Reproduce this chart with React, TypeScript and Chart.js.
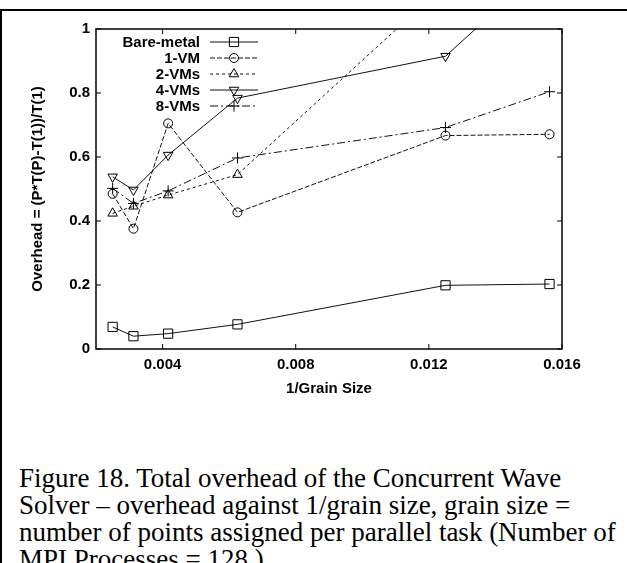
import React, { useEffect, useRef } from 'react';
import { Chart, registerables } from 'chart.js';

Chart.register(...registerables);

// ---- data ----
const grainX = [0.0025, 0.003125, 0.0041667, 0.00625, 0.0125, 0.015625];
const bareMetal = [0.069, 0.04, 0.048, 0.077, 0.199, 0.203];
const oneVM = [0.485, 0.376, 0.705, 0.427, 0.667, 0.671];
const twoVMs = [0.424, 0.446, 0.481, 0.545, 1.14, 1.32];
const fourVMs = [0.538, 0.497, 0.606, 0.784, 0.915, 1.21];
const eightVMs = [0.502, 0.455, 0.494, 0.597, 0.692, 0.804];
const seriesNames = ['Bare-metal', '1-VM', '2-VMs', '4-VMs', '8-VMs'];
const xTicks = [0.004, 0.008, 0.012, 0.016];
const yTicks = [0, 0.2, 0.4, 0.6, 0.8, 1];
const xTitle = '1/Grain Size';
const yTitle = 'Overhead = (P*T(P)-T(1))/T(1)';
const captionLines = [
  'Figure 18. Total overhead of the Concurrent Wave',
  'Solver \u2013 overhead against 1/grain size, grain size =',
  'number of points assigned per parallel task (Number of',
  'MPI Processes = 128 )',
];

const SANS = "'Liberation Sans', Arial, Helvetica, sans-serif";

function drawMarker(ctx: CanvasRenderingContext2D, style: string, x: number, y: number, r: number, rotDeg: number) {
  ctx.beginPath();
  if (style === 'rect') {
    const s = Math.SQRT1_2 * r;
    ctx.rect(x - s, y - s, 2 * s, 2 * s);
  } else if (style === 'circle') {
    ctx.arc(x, y, r, 0, Math.PI * 2);
  } else if (style === 'triangle') {
    let rad = (rotDeg * Math.PI) / 180;
    ctx.moveTo(x + Math.sin(rad) * r, y - Math.cos(rad) * r);
    rad += (2 * Math.PI) / 3;
    ctx.lineTo(x + Math.sin(rad) * r, y - Math.cos(rad) * r);
    rad += (2 * Math.PI) / 3;
    ctx.lineTo(x + Math.sin(rad) * r, y - Math.cos(rad) * r);
    ctx.closePath();
  } else if (style === 'cross') {
    ctx.moveTo(x - r, y);
    ctx.lineTo(x + r, y);
    ctx.moveTo(x, y - r);
    ctx.lineTo(x, y + r);
  }
  ctx.stroke();
}

const framePlugin = {
  id: 'gnuplotFrame',
  afterDatasetsDraw(chart: any) {
    const { ctx, chartArea: a, scales } = chart;
    ctx.save();
    ctx.setLineDash([]);
    ctx.strokeStyle = '#000';
    ctx.lineWidth = 1.5;
    ctx.strokeRect(a.left, a.top, a.right - a.left, a.bottom - a.top);
    const tl = 5;
    ctx.lineWidth = 1;
    ctx.beginPath();
    scales.x.ticks.forEach((t: any) => {
      const px = scales.x.getPixelForValue(t.value);
      ctx.moveTo(px, a.bottom);
      ctx.lineTo(px, a.bottom - tl);
      ctx.moveTo(px, a.top);
      ctx.lineTo(px, a.top + tl);
    });
    scales.y.ticks.forEach((t: any) => {
      const py = scales.y.getPixelForValue(t.value);
      ctx.moveTo(a.left, py);
      ctx.lineTo(a.left + tl, py);
      ctx.moveTo(a.right, py);
      ctx.lineTo(a.right - tl, py);
    });
    ctx.stroke();

    // legend (gnuplot style: right-aligned label, then line sample with marker)
    const textRight = 200;
    const x0 = 210;
    const x1 = 258;
    const xm = 234;
    const rowTop = 42;
    const rowStep = 16;
    ctx.font = `bold 15px ${SANS}`;
    ctx.textAlign = 'right';
    ctx.textBaseline = 'middle';
    chart.data.datasets.forEach((ds: any, i: number) => {
      const y = rowTop + i * rowStep;
      ctx.fillStyle = '#000';
      ctx.fillText(ds.label, textRight, y + 1);
      ctx.strokeStyle = ds.borderColor;
      ctx.lineWidth = ds.borderWidth;
      ctx.setLineDash(ds.borderDash || []);
      ctx.beginPath();
      ctx.moveTo(x0, y);
      ctx.lineTo(x1, y);
      ctx.stroke();
      ctx.setLineDash([]);
      ctx.strokeStyle = '#000';
      ctx.lineWidth = 1;
      drawMarker(ctx, ds.pointStyle, xm, y, ds.pointRadius, ds.pointRotation || 0);
    });
    ctx.restore();
  },
};

export default function App() {
  const ref = useRef<HTMLCanvasElement>(null);

  useEffect(() => {
    if (!ref.current) return;
    const mk = (label: string, values: number[], extra: any) => ({
      label,
      data: grainX.map((x, i) => ({ x, y: values[i] })),
      borderColor: '#111',
      borderWidth: 1,
      pointBorderColor: '#000',
      pointBackgroundColor: 'rgba(0,0,0,0)',
      pointBorderWidth: 1,
      fill: false,
      tension: 0,
      ...extra,
    });
    const datasets = [
      mk(seriesNames[0], bareMetal, { pointStyle: 'rect', pointRadius: 6.5, borderDash: [] }),
      mk(seriesNames[1], oneVM, { pointStyle: 'circle', pointRadius: 4.5, borderDash: [5, 2] }),
      mk(seriesNames[2], twoVMs, { pointStyle: 'triangle', pointRadius: 5.5, borderDash: [3, 3] }),
      mk(seriesNames[3], fourVMs, { pointStyle: 'triangle', pointRotation: 180, pointRadius: 5.5, borderDash: [] }),
      mk(seriesNames[4], eightVMs, { pointStyle: 'cross', pointRadius: 5.5, borderDash: [8, 3, 2, 3] }),
    ];
    const tickFont = { family: SANS, size: 15, weight: 'bold' as const };
    const chart = new Chart(ref.current, {
      type: 'line',
      data: { datasets },
      plugins: [framePlugin],
      options: {
        animation: false,
        responsive: false,
        maintainAspectRatio: false,
        layout: { padding: { left: 0, top: 29, right: 65, bottom: 0 } },
        plugins: { legend: { display: false }, tooltip: { enabled: false } },
        scales: {
          x: {
            type: 'linear',
            min: 0.002,
            max: 0.016,
            afterBuildTicks: (s: any) => {
              s.ticks = xTicks.map((v) => ({ value: v }));
            },
            afterFit: (s: any) => {
              s.height = 61;
            },
            grid: { display: false, drawTicks: false },
            border: { display: false },
            ticks: {
              padding: 7,
              color: '#000',
              font: tickFont,
              maxRotation: 0,
              autoSkip: false,
              callback: (v: any) => Number(v).toFixed(3),
            },
            title: {
              display: true,
              text: xTitle,
              color: '#000',
              font: tickFont,
              padding: { top: 0, bottom: 12 },
            },
          },
          y: {
            type: 'linear',
            min: 0,
            max: 1,
            afterBuildTicks: (s: any) => {
              s.ticks = yTicks.map((v) => ({ value: v }));
            },
            afterFit: (s: any) => {
              s.width = 96;
            },
            grid: { display: false, drawTicks: false },
            border: { display: false },
            ticks: {
              padding: 6,
              color: '#000',
              font: tickFont,
              autoSkip: false,
              callback: (v: any) => {
                const n = Number(v);
                if (n === 0) return '0';
                if (n === 1) return '1';
                return n.toFixed(1);
              },
            },
            title: {
              display: true,
              text: yTitle,
              color: '#000',
              font: tickFont,
              padding: { top: 29, bottom: 0 },
            },
          },
        },
      } as any,
    });
    return () => chart.destroy();
  }, []);

  return (
    <div
      style={{
        position: 'absolute',
        left: 0,
        top: 0,
        width: 627,
        height: 563,
        overflow: 'hidden',
        background: '#fff',
      }}
    >
      <div style={{ position: 'absolute', left: 0, top: 9, width: 627, height: 2, background: '#000' }} />
      <div style={{ position: 'absolute', left: 0, top: 9, width: 2, height: 560, background: '#000' }} />
      <canvas
        ref={ref}
        width={627}
        height={410}
        style={{ position: 'absolute', left: 0, top: 0, width: 627, height: 410 }}
      />
      <div
        style={{
          position: 'absolute',
          left: 19,
          top: 465,
          width: 608,
          fontFamily: "'Liberation Serif', 'Times New Roman', serif",
          fontSize: 27,
          lineHeight: '27px',
          color: '#000',
          whiteSpace: 'nowrap',
        }}
      >
        {captionLines.map((l, i) => (
          <div key={i}>{l}</div>
        ))}
      </div>
    </div>
  );
}
